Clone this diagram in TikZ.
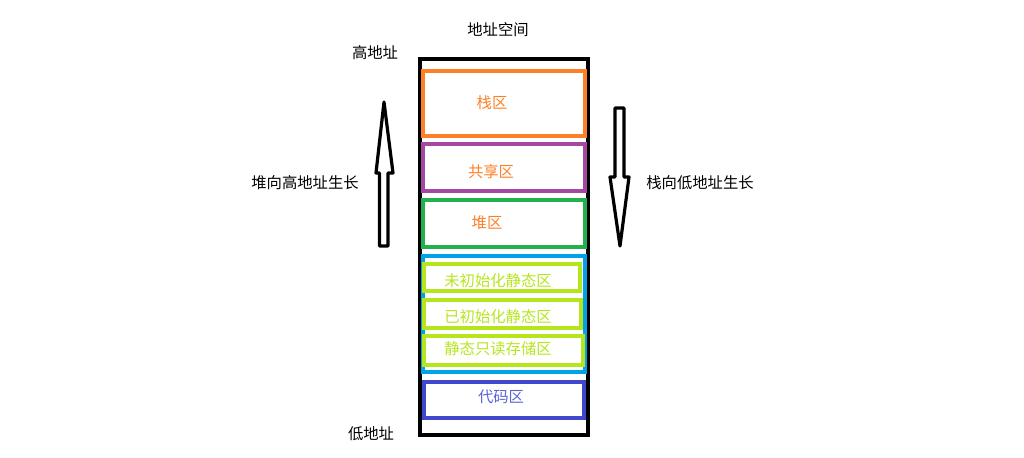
\documentclass[tikz,border=0pt]{standalone}
\usepackage{fontspec}
\setmainfont{Noto Sans CJK SC}
\usepackage{tikz}
\usetikzlibrary{positioning}

\definecolor{stackorange}{HTML}{FF7F27}
\definecolor{sharepurple}{HTML}{A349A4}
\definecolor{heapgreen}{HTML}{22B14C}
\definecolor{staticblue}{HTML}{00A2E8}
\definecolor{staticlime}{HTML}{B5E61D}
\definecolor{codeblue}{HTML}{3F48CC}

\begin{document}
\begin{tikzpicture}[x=0.75pt,y=-0.75pt,
	every node/.style={font=\fontsize{11.5}{13}\selectfont, inner sep=0pt},
	zone/.style 2 args={draw, rectangle, line width=3pt, minimum width=#1*0.75pt, minimum height=#2*0.75pt},
	growarrow/.style={draw=black, fill=white, line width=2.4pt, line join=round}]
	\useasboundingbox (0,0) rectangle (1024,457);
	
	% address space
	\node[zone={168}{376}, draw=black] (space) at (504,247) {};
	\node (spacetitle) at (498,30) {地址空间};
	\node (high) at (375,53) {高地址};
	\node (low) at (371,434) {低地址};
	
	% segments
	\node[zone={162}{65}, draw=stackorange] (stack) at (504,103.5) {};
	\node[zone={162}{47}, draw=sharepurple] (share) at (504,167.5) {};
	\node[zone={162}{47}, draw=heapgreen] (heap) at (504,223.5) {};
	\node[zone={162}{116}, draw=staticblue] (static) at (504,314) {};
	\node[zone={156}{27}, draw=staticlime] (bss) at (502,277.5) {};
	\node[zone={157}{28}, draw=staticlime] (data) at (502.5,314) {};
	\node[zone={159}{29}, draw=staticlime] (rodata) at (503.5,350.5) {};
	\node[zone={160}{36}, draw=codeblue] (code) at (504,400) {};
	
	\node[text=stackorange] (stacktext) at (492,103) {栈区};
	\node[text=stackorange] (sharetext) at (491,172) {共享区};
	\node[text=stackorange] (heaptext) at (487,223) {堆区};
	\node[text=staticlime] (bsstext) at (498,281) {未初始化静态区};
	\node[text=staticlime] (datatext) at (498,317) {已初始化静态区};
	\node[text=staticlime] (rodatatext) at (498,349) {静态只读存储区};
	\node[text=codeblue!85] (codetext) at (501,397) {代码区};
	
	% growth directions
	\draw[growarrow] (379.5,246) -- (379.5,173) -- (376,173) -- (384,102)
		-- (393,173) -- (388,173) -- (388,246) -- cycle;
	\node (heapgrow) at (305,183) {堆向高地址生长};
	\draw[growarrow] (615,108) -- (624,108) -- (624,177) -- (629,177) -- (620,246)
		-- (610,177) -- (615,177) -- cycle;
	\node (stackgrow) at (700,183) {栈向低地址生长};
\end{tikzpicture}
\end{document}
